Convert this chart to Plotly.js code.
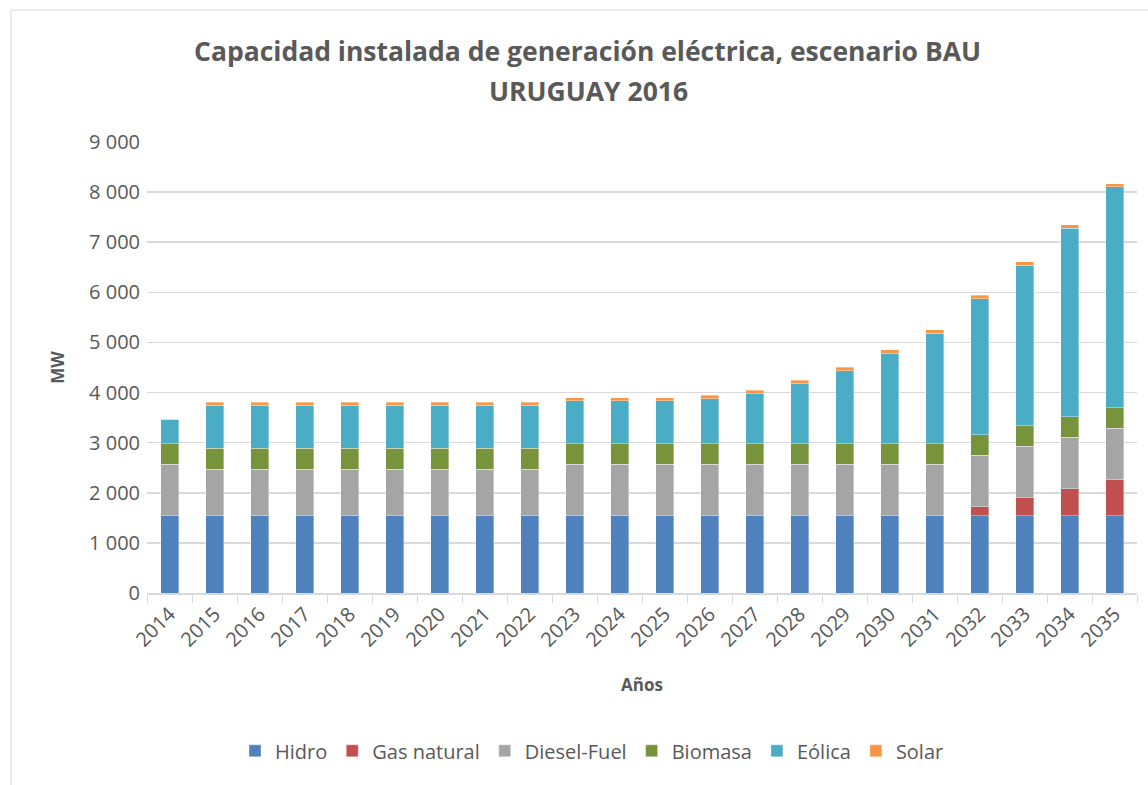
<!DOCTYPE html>
<html>
<head>
<meta charset="utf-8">
<script src="https://cdn.plot.ly/plotly-3.0.1.min.js"></script>
<style>html,body{margin:0;padding:0;background:#fff;}#chart{width:1148px;height:785px;}</style>
</head>
<body>
<div id="chart"></div>
<script>
const years = ["2014","2015","2016","2017","2018","2019","2020","2021","2022","2023","2024","2025","2026","2027","2028","2029","2030","2031","2032","2033","2034","2035"];
const hidro =      [1538,1538,1538,1538,1538,1538,1538,1538,1538,1538,1538,1538,1538,1538,1538,1538,1538,1538,1538,1538,1538,1538];
const gasNatural = [0,0,0,0,0,0,0,0,0,0,0,0,0,0,0,0,0,0,180,360,540,720];
const dieselFuel = [1028,934,934,934,934,934,934,934,934,1030,1030,1030,1030,1030,1030,1030,1030,1030,1030,1030,1030,1030];
const biomasa =    [410,412,412,412,412,412,412,412,412,410,410,410,410,410,410,410,410,410,410,410,410,410];
const eolica =     [490,860,860,860,860,860,860,860,860,855,855,855,900,1000,1200,1455,1800,2210,2710,3200,3760,4405];
const solar =      [0,66,66,66,66,66,66,66,66,68,68,68,72,72,72,72,72,68,72,72,68,66];

const titleLines = ["Capacidad instalada de generación eléctrica, escenario BAU","URUGUAY 2016"];
const seriesNames = ["Hidro","Gas natural","Diesel-Fuel","Biomasa","Eólica","Solar"];
const seriesData = [hidro,gasNatural,dieselFuel,biomasa,eolica,solar];
const colors = ["#4f81bd","#c0504d","#a5a5a5","#77933c","#4bacc6","#f79646"];

const traces = seriesNames.map((n,i)=>({
  type:"bar", name:n, x:years, y:seriesData[i],
  marker:{color:colors[i], line:{color:"rgba(255,255,255,0.6)", width:0.6}},
  hoverinfo:"x+y+name"
}));

const font = "'Open Sans', sans-serif";
const pxToPaperX = px => (px-147)/990;
const pxToPaperY = py => (593-py)/451;
const layout = {
  width:1148, height:785,
  barmode:"stack", bargap:0.6,
  separators:", ",
  paper_bgcolor:"#fff", plot_bgcolor:"#fff",
  margin:{l:147, r:11, t:142, b:192},
  font:{family:font, color:"#595959"},
  xaxis:{type:"category", tickangle:-45, tickfont:{size:20, color:"#595959"}, showline:true, linecolor:"#d9d9d9", linewidth:1.5,
         ticks:"outside", tickson:"boundaries", ticklen:8, tickcolor:"#d9d9d9",
         title:{text:"<b>Años</b>", font:{size:17, color:"#595959"}, standoff:28}},
  yaxis:{range:[0,9000], dtick:1000, tickformat:",d", tickfont:{size:20, color:"#595959"}, gridcolor:"#d9d9d9", gridwidth:1.5,
         zeroline:false, showline:false, ticks:"", ticklabelstandoff:6,
         title:{text:"<b>MW</b>", font:{size:17, color:"#595959"}, standoff:20}},
  legend:{orientation:"h", x:pxToPaperX(592), xanchor:"center", y:-0.35, yanchor:"middle", font:{size:20, color:"#595959"}, traceorder:"normal", itemwidth:20},
  annotations:[
    {text:"<b>"+titleLines[0]+"</b>", xref:"paper", yref:"paper", x:pxToPaperX(587), y:pxToPaperY(51), xanchor:"center", yanchor:"middle", showarrow:false, font:{family:font, size:26.5, color:"#595959"}},
    {text:"<b>"+titleLines[1]+"</b>", xref:"paper", yref:"paper", x:pxToPaperX(588), y:pxToPaperY(91), xanchor:"center", yanchor:"middle", showarrow:false, font:{family:font, size:26.5, color:"#595959"}}
  ],
  shapes:[{type:"rect", xref:"paper", yref:"paper", x0:(11-147)/990, x1:(1160-147)/990, y0:(593-800)/451, y1:(593-10)/451,
           line:{color:"#d9d9d9", width:1}, fillcolor:"rgba(0,0,0,0)", layer:"below"}]
};
Plotly.newPlot("chart", traces, layout, {displayModeBar:false, staticPlot:true});
</script>
</body>
</html>
